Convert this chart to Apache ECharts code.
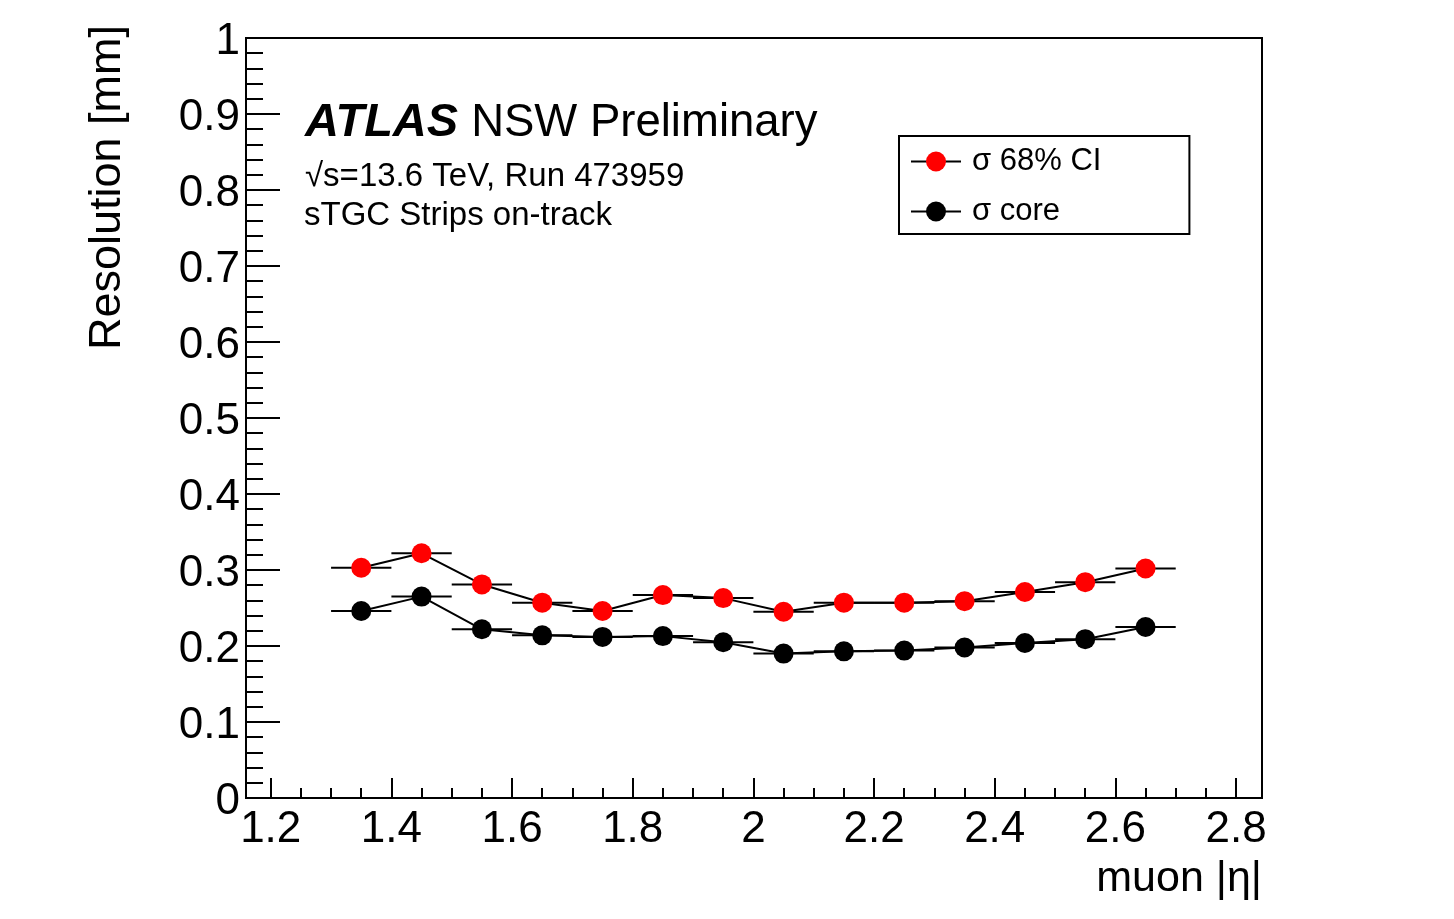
<!DOCTYPE html>
<html>
<head>
<meta charset="utf-8">
<script src="https://cdn.jsdelivr.net/npm/echarts@6/dist/echarts.min.js"></script>
<style>
  html, body { margin: 0; padding: 0; background: #fff; }
  #chart { width: 1454px; height: 919px; }
</style>
</head>
<body>
<div id="chart"></div>
<script>
// Bin centres in muon |eta| (bin width 0.1)
const etaCenters = [1.35, 1.45, 1.55, 1.65, 1.75, 1.85, 1.95, 2.05, 2.15, 2.25, 2.35, 2.45, 2.55, 2.65];
const binHalfWidth = 0.05;

// Resolution [mm]
const sigma68CI = [0.303, 0.322, 0.281, 0.257, 0.246, 0.267, 0.263, 0.245, 0.257, 0.257, 0.259, 0.271, 0.284, 0.302];
const sigmaCore = [0.246, 0.265, 0.222, 0.214, 0.212, 0.213, 0.205, 0.190, 0.193, 0.194, 0.198, 0.204, 0.209, 0.225];

// Axis ticks
const xMajorTicks = [1.2, 1.4, 1.6, 1.8, 2.0, 2.2, 2.4, 2.6, 2.8];
const xMinorTicks = [1.25, 1.3, 1.35, 1.45, 1.5, 1.55, 1.65, 1.7, 1.75, 1.85, 1.9, 1.95,
                     2.05, 2.1, 2.15, 2.25, 2.3, 2.35, 2.45, 2.5, 2.55, 2.65, 2.7, 2.75];

const seriesNames = ['σ 68% CI', 'σ core'];
const seriesColors = ['#ff0000', '#000000'];

const FONT = '"Liberation Sans", Arial, Helvetica, sans-serif';

function pairs(vals) {
  return etaCenters.map((x, i) => [x, vals[i]]);
}

// Horizontal bin-width bars drawn through the axis scales
function errorBarSeries(vals) {
  return {
    type: 'custom',
    xAxisIndex: 0,
    yAxisIndex: 0,
    silent: true,
    z: 1,
    data: pairs(vals),
    renderItem: function (params, api) {
      const x = api.value(0), y = api.value(1);
      const p1 = api.coord([x - binHalfWidth, y]);
      const p2 = api.coord([x + binHalfWidth, y]);
      return {
        type: 'line',
        shape: { x1: p1[0], y1: p1[1], x2: p2[0], y2: p2[1] },
        style: { stroke: '#000', lineWidth: 2 }
      };
    }
  };
}

function pointSeries(name, vals, color) {
  return {
    name: name,
    type: 'line',
    xAxisIndex: 0,
    yAxisIndex: 0,
    z: 3,
    data: pairs(vals),
    symbol: 'circle',
    symbolSize: 20,
    showSymbol: true,
    itemStyle: { color: color },
    lineStyle: { color: '#000', width: 2 },
    emphasis: { disabled: true },
    silent: true
  };
}

const chart = echarts.init(document.getElementById('chart'), null, { renderer: 'canvas' });

const xMin = 1.159, xMax = 2.843;

chart.setOption({
  animation: false,
  backgroundColor: '#fff',
  grid: {
    left: 246, top: 38, width: 1016, height: 760,
    show: true, borderColor: '#000', borderWidth: 2, backgroundColor: 'transparent'
  },
  xAxis: [
    {
      type: 'value', position: 'bottom', min: xMin, max: xMax,
      axisLine: { show: true, onZero: false, lineStyle: { color: '#000', width: 2 } },
      axisTick: { show: true, inside: true, length: 20, customValues: xMajorTicks, lineStyle: { color: '#000', width: 2 } },
      axisLabel: {
        show: true, customValues: xMajorTicks, margin: 10,
        fontFamily: FONT, fontSize: 44, color: '#000',
        formatter: v => String(parseFloat(v.toFixed(2)))
      },
      splitLine: { show: false }
    },
    {
      type: 'value', position: 'bottom', min: xMin, max: xMax, gridIndex: 0,
      axisLine: { show: false, onZero: false },
      axisTick: { show: true, inside: true, length: 10, customValues: xMinorTicks, lineStyle: { color: '#000', width: 2 } },
      axisLabel: { show: false },
      splitLine: { show: false }
    }
  ],
  yAxis: {
    type: 'value', min: 0, max: 1, interval: 0.1,
    axisLine: { show: true, onZero: false, lineStyle: { color: '#000', width: 2 } },
    axisTick: { show: true, inside: true, length: 34, lineStyle: { color: '#000', width: 2 } },
    minorTick: { show: true, splitNumber: 5, length: 17, lineStyle: { color: '#000', width: 2 } },
    axisLabel: {
      margin: 6,
      formatter: v => '{v|' + String(parseFloat(v.toFixed(2))) + '}',
      rich: { v: { fontFamily: FONT, fontSize: 44, color: '#000', padding: [7, 0, 0, 0] } }
    },
    splitLine: { show: false },
    minorSplitLine: { show: false }
  },
  legend: {
    data: seriesNames,
    orient: 'vertical',
    left: 899, top: 136,
    padding: [10, 88, 7, 11],
    itemGap: 19,
    itemWidth: 50,
    itemHeight: 25,
    borderColor: '#000',
    borderWidth: 2,
    backgroundColor: '#fff',
    selectedMode: false,
    textStyle: { fontFamily: FONT, fontSize: 31, color: '#000', lineHeight: 30, padding: [0, 0, 0, 6] }
  },
  title: [
    {
      left: 305, top: 100,
      text: '{a|ATLAS}{s| }{b|NSW Preliminary}',
      textStyle: {
        fontWeight: 'normal',
        rich: {
          a: { fontFamily: FONT, fontSize: 47, fontWeight: 'bold', fontStyle: 'italic', color: '#000' },
          s: { fontFamily: FONT, fontSize: 45, width: 13, color: '#000' },
          b: { fontFamily: FONT, fontSize: 45.5, fontWeight: 'normal', color: '#000' }
        }
      },
      padding: 0
    },
    {
      left: 305, top: 160,
      text: '√s=13.6 TeV, Run 473959',
      textStyle: { fontFamily: FONT, fontSize: 33, fontWeight: 'normal', color: '#000' },
      padding: 0
    },
    {
      left: 304, top: 199,
      text: 'sTGC Strips on-track',
      textStyle: { fontFamily: FONT, fontSize: 33, fontWeight: 'normal', color: '#000' },
      padding: 0
    }
  ],
  graphic: [
    {
      type: 'text', x: 108, y: 25, rotation: Math.PI / 2,
      style: { text: 'Resolution [mm]', fontFamily: FONT, fontSize: 45, fill: '#000', align: 'right', verticalAlign: 'middle' }
    },
    {
      type: 'text', x: 1262, y: 879,
      style: { text: 'muon |η|', fontFamily: FONT, fontSize: 43, fill: '#000', align: 'right', verticalAlign: 'middle' }
    }
  ],
  series: [
    errorBarSeries(sigma68CI),
    errorBarSeries(sigmaCore),
    pointSeries(seriesNames[0], sigma68CI, seriesColors[0]),
    pointSeries(seriesNames[1], sigmaCore, seriesColors[1])
  ]
});
</script>
</body>
</html>
